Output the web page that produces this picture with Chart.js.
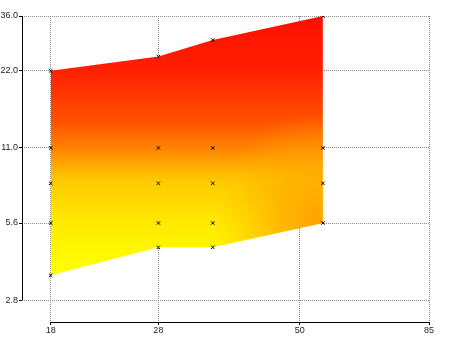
<!DOCTYPE html>
<html>
<head>
<meta charset="utf-8">
<script src="https://cdn.jsdelivr.net/npm/chart.js@4/dist/chart.umd.min.js"></script>
<style>
  html, body { margin: 0; padding: 0; background: #fff; }
  #wrap { width: 450px; height: 337px; }
</style>
</head>
<body>
<div id="wrap"><canvas id="chart"></canvas></div>
<script>
// data (log x, log y)
const xs = [18, 28, 35, 55];
const upper = [22, 25, 29, 36];
const lower = [3.5, 4.5, 4.5, 5.6];
// sample points shown as small crosses, one list per column
const markerCols = [
  [22, 11, 8, 5.6, 3.5],
  [25, 11, 8, 5.6, 4.5],
  [29, 11, 8, 5.6, 4.5],
  [36, 11, 8, 5.6]
];
const xTicks = [18, 28, 50, 85];
const yTicks = [2.8, 5.6, 11, 22, 36];

// colour ramp of the band, keyed by y value
const rampStops = [
  [36, '#ff0e00'], [22, '#ff2000'], [14, '#ff5200'], [11, '#ff8200'],
  [8.6, '#ffc000'], [8, '#ffcc00'], [5.6, '#ffea00'], [4.5, '#fff600'], [3.5, '#ffff00']
];

const pts = (ys) => xs.map((x, i) => ({ x: x, y: ys[i] }));
const markers = [];
markerCols.forEach((col, i) => col.forEach(v => markers.push({ x: xs[i], y: v })));

function bandFill(ctx) {
  const chart = ctx.chart;
  if (!chart.chartArea) return '#ff8000';
  const y = chart.scales.y;
  const top = y.getPixelForValue(rampStops[0][0]);
  const bot = y.getPixelForValue(rampStops[rampStops.length - 1][0]);
  const g = chart.ctx.createLinearGradient(0, top, 0, bot);
  rampStops.forEach(s => {
    g.addColorStop((y.getPixelForValue(s[0]) - top) / (bot - top), s[1]);
  });
  return g;
}

// orange patch around the lower right corner
function cornerGlow(ctx) {
  const chart = ctx.chart;
  if (!chart.chartArea) return 'rgba(0,0,0,0)';
  const cx = chart.scales.x.getPixelForValue(xs[3]);
  const cy = chart.scales.y.getPixelForValue(lower[3]);
  const g = chart.ctx.createRadialGradient(cx, cy, 0, cx, cy, 110);
  g.addColorStop(0, 'rgba(255,160,0,1)');
  g.addColorStop(0.4, 'rgba(255,165,0,0.7)');
  g.addColorStop(1, 'rgba(255,180,0,0)');
  return g;
}

// axis lines only run between the first and last tick
const axisLines = {
  id: 'axisLines',
  afterDraw(chart) {
    const c = chart.ctx, x = chart.scales.x, y = chart.scales.y, a = chart.chartArea;
    c.save();
    c.strokeStyle = '#000';
    c.lineWidth = 1;
    c.beginPath();
    c.moveTo(Math.round(a.left) + 0.5, y.getPixelForValue(yTicks[yTicks.length - 1]));
    c.lineTo(Math.round(a.left) + 0.5, y.getPixelForValue(yTicks[0]));
    c.moveTo(x.getPixelForValue(xTicks[0]), Math.round(a.bottom) + 0.5);
    c.lineTo(x.getPixelForValue(xTicks[xTicks.length - 1]), Math.round(a.bottom) + 0.5);
    c.stroke();
    c.restore();
  }
};

const gridOpts = {
  color: '#888',
  tickLength: 3,
  tickColor: '#000',
  tickBorderDash: []
};
const borderOpts = { display: false, dash: [1, 1] };
const tickFont = { family: 'Liberation Sans', size: 9 };

new Chart(document.getElementById('chart'), {
  type: 'scatter',
  data: {
    datasets: [
      { data: pts(upper), showLine: true, borderWidth: 0, pointRadius: 0, fill: '+1', backgroundColor: bandFill, order: 3 },
      { data: pts(lower), showLine: true, borderWidth: 0, pointRadius: 0, fill: false, order: 2 },
      { data: pts(upper), showLine: true, borderWidth: 0, pointRadius: 0, fill: 1, backgroundColor: cornerGlow, order: 1 },
      { data: markers, showLine: false, pointStyle: 'crossRot', pointRadius: 2.5, borderColor: '#000', borderWidth: 1, order: 0 }
    ]
  },
  options: {
    responsive: true,
    maintainAspectRatio: false,
    animation: false,
    layout: { padding: { top: 16, right: 21, left: 0, bottom: 0 } },
    plugins: { legend: { display: false }, tooltip: { enabled: false } },
    scales: {
      x: {
        type: 'logarithmic',
        min: 16, max: 85,
        z: 1,
        border: borderOpts,
        grid: gridOpts,
        afterBuildTicks: (s) => { s.ticks = xTicks.map(v => ({ value: v })); },
        afterFit: (s) => { s.height = 15; },
        ticks: { color: '#222', font: tickFont, padding: 0, maxRotation: 0, autoSkip: false, callback: (v) => String(v) }
      },
      y: {
        type: 'logarithmic',
        min: 2.3, max: 36,
        z: 1,
        border: borderOpts,
        grid: gridOpts,
        afterBuildTicks: (s) => { s.ticks = yTicks.map(v => ({ value: v })); },
        afterFit: (s) => { s.width = 22; },
        ticks: { color: '#222', font: tickFont, padding: 1, autoSkip: false, callback: (v) => Number(v).toFixed(1) }
      }
    }
  },
  plugins: [axisLines]
});
</script>
</body>
</html>
